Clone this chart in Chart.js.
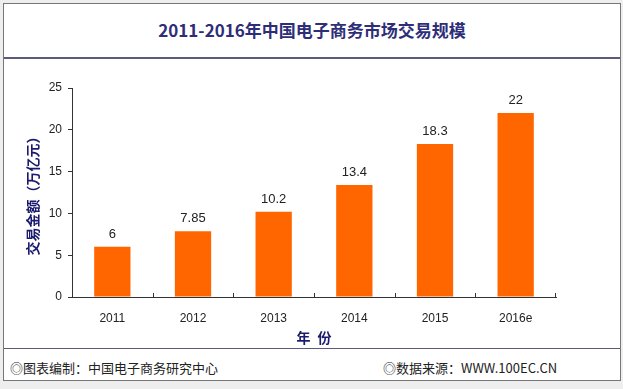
<!DOCTYPE html>
<html>
<head>
<meta charset="utf-8">
<script src="https://cdn.jsdelivr.net/npm/chart.js@4"></script>
<style>
  body { margin: 0; background: #eeeeee; width: 623px; height: 389px; overflow: hidden; position: relative; }
  #box { position: absolute; left: 3px; top: 3px; width: 616px; height: 376px; background: #fff; border: 1px solid #777; }
  #title { position: absolute; left: 0; top: 13px; width: 616px; text-align: center; font: bold 17px "Noto Sans CJK SC", sans-serif; color: #2e2e78; }
  #rule1 { position: absolute; left: 0; top: 53px; width: 616px; height: 2px; background: #5a5a7a; }
  #rule2 { position: absolute; left: 0; top: 344px; width: 616px; height: 1px; background: #5a5a7a; }
  .foot { position: absolute; top: 354px; font: 13px "Noto Sans CJK SC", sans-serif; color: #222; }
  #wrap { position: absolute; left: 0; top: 57px; width: 616px; height: 288px; }
</style>
</head>
<body>
<div id="box">
  <div id="title">2011-2016年中国电子商务市场交易规模</div>
  <div id="rule1"></div>
  <div id="wrap"><canvas id="c"></canvas></div>
  <div id="rule2"></div>
  <div class="foot" style="left:6px">◎图表编制：中国电子商务研究中心</div>
  <div class="foot" style="left:379px">◎数据来源：WWW.100EC.CN</div>
</div>
<script>
var years = ['2011', '2012', '2013', '2014', '2015', '2016e'];
var values = [6, 7.85, 10.2, 13.4, 18.3, 22];
var valueLabels = ['6', '7.85', '10.2', '13.4', '18.3', '22'];

var barLabels = {
    id: 'barLabels',
    afterDatasetsDraw: function(chart) {
        var ctx = chart.ctx;
        var meta = chart.getDatasetMeta(0);
        ctx.save();
        ctx.font = '13px "Liberation Sans", sans-serif';
        ctx.fillStyle = '#222';
        ctx.textAlign = 'center';
        ctx.textBaseline = 'bottom';
        meta.data.forEach(function(bar, i) {
            ctx.fillText(valueLabels[i], bar.x, bar.y - 6);
        });
        ctx.restore();
    }
};

// x axis tick marks point up into the plot, between categories
var innerTicks = {
    id: 'innerTicks',
    afterDraw: function(chart) {
        var ctx = chart.ctx;
        var x = chart.scales.x;
        var bottom = chart.chartArea.bottom;
        ctx.save();
        ctx.strokeStyle = '#333';
        ctx.lineWidth = 1;
        for (var i = 0; i < years.length; i++) {
            var px = Math.round((x.getPixelForValue(i) + x.getPixelForValue(i + 1)) / 2) + 0.5;
            if (i === years.length - 1) px = Math.round(chart.chartArea.right) - 0.5;
            ctx.beginPath();
            ctx.moveTo(px, bottom);
            ctx.lineTo(px, bottom - 4);
            ctx.stroke();
        }
        ctx.restore();
    }
};

new Chart(document.getElementById('c'), {
    type: 'bar',
    data: {
        labels: years,
        datasets: [{
            data: values,
            backgroundColor: '#ff6600',
            barPercentage: 0.45,
            categoryPercentage: 1
        }]
    },
    options: {
        responsive: true,
        maintainAspectRatio: false,
        animation: false,
        layout: { padding: { top: 27, right: 64, left: 0, bottom: 0 } },
        plugins: { legend: { display: false }, tooltip: { enabled: false } },
        scales: {
            x: {
                afterFit: function(s) { s.height = 52; },
                grid: { display: false },
                border: { color: '#333', width: 1 },
                ticks: { color: '#222', padding: 6, font: { size: 12, family: '"Liberation Sans", sans-serif' } },
                title: { display: true, text: '年\u2002份', color: '#1a1a6e', padding: { top: 0, bottom: 3 }, font: { size: 14, weight: 'bold', family: '"Noto Sans CJK SC", sans-serif' } }
            },
            y: {
                min: 0,
                max: 25,
                afterFit: function(s) { s.width = 68; },
                grid: { drawOnChartArea: false, tickLength: 4, color: '#333' },
                border: { color: '#333', width: 1 },
                ticks: { stepSize: 5, color: '#222', padding: 6, font: { size: 12, family: '"Liberation Sans", sans-serif' } },
                title: { display: true, text: '交易金额（万亿元）', color: '#1a1a6e', padding: { top: 20, bottom: 0 }, font: { size: 14, weight: 'bold', family: '"Noto Sans CJK SC", sans-serif' } }
            }
        }
    },
    plugins: [barLabels, innerTicks]
});
</script>
</body>
</html>
